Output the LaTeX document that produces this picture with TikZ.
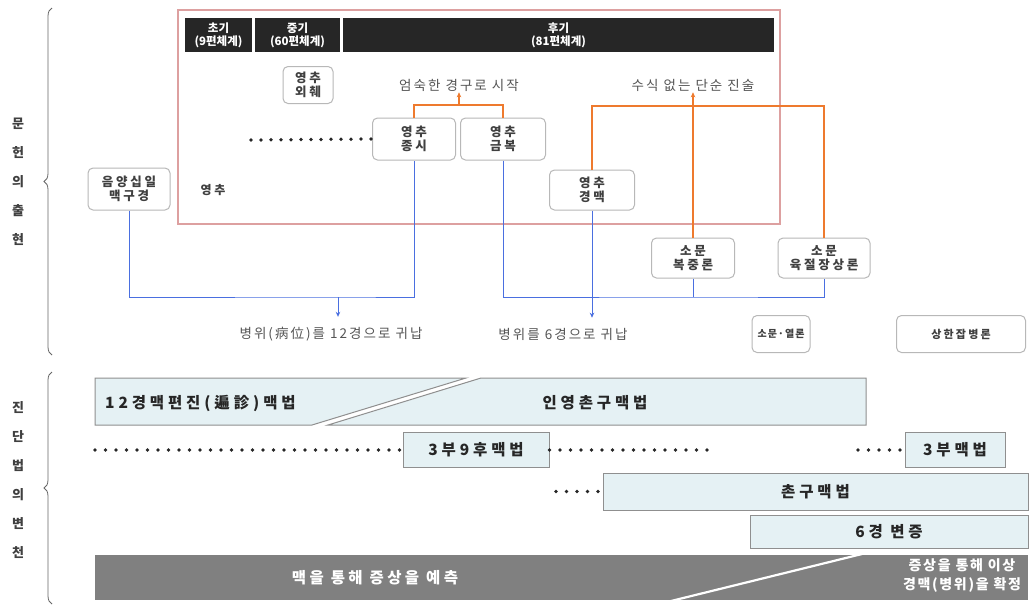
\documentclass[tikz,border=0pt]{standalone}
\usepackage{fontspec}
\setmainfont{Noto Sans CJK KR}
\newfontfamily\lsbox{Noto Sans CJK KR}[LetterSpace=22]
\newfontfamily\lslbl{Noto Sans CJK KR}[LetterSpace=15]
\newfontfamily\lsbig{Noto Sans CJK KR}[LetterSpace=25]
\newfontfamily\lsband{Noto Sans CJK KR}[LetterSpace=12]
\newfontfamily\lsmid{Noto Sans CJK KR}[LetterSpace=22]
\newfontfamily\lssmall{Noto Sans CJK KR}[LetterSpace=10]
\newfontfamily\lssh{Noto Sans CJK KR}[LetterSpace=20]
\usetikzlibrary{arrows.meta,decorations.pathreplacing}
\definecolor{hdr}{HTML}{262626}
\definecolor{pinkb}{HTML}{DDA0A0}
\definecolor{orl}{HTML}{EE7A2E}
\definecolor{bll}{HTML}{4A6FE0}
\definecolor{cyf}{HTML}{E5F1F4}
\definecolor{cyb}{HTML}{8F8F8F}
\definecolor{bandg}{HTML}{808080}
\definecolor{txg}{HTML}{555555}
\definecolor{bxb}{HTML}{B8B8B8}
\begin{document}
\begin{tikzpicture}[x=1pt,y=-1pt,
 hdrbox/.style={fill=hdr,text=white,font=\fontsize{11.5}{13}\selectfont\bfseries,align=center,minimum height=34pt,inner sep=0pt},
 rbox/.style={draw=bxb,line width=1pt,rounded corners=5pt,fill=white,align=center,font=\lsbox\fontsize{12.5}{14}\selectfont\bfseries,text=black!75,inner sep=0pt},
 lbl/.style={font=\lslbl\fontsize{13.5}{15}\selectfont,text=txg,inner sep=0pt},
 orline/.style={draw=orl,line width=1.3pt},
 blline/.style={draw=bll,line width=1pt},
 tipa/.style={-{Stealth[length=5pt,width=4.5pt]}},
 cybox/.style={draw=cyb,line width=1pt,fill=cyf,inner sep=0pt,font=\lsbig\fontsize{15.5}{17}\selectfont\bfseries,text=black!85},
 cytext/.style={inner sep=0pt,font=\lsbig\fontsize{15.5}{17}\selectfont\bfseries,text=black!85},
 dotrow/.style={line width=3.8pt,line cap=round,dash pattern=on 0pt off 10.5pt,draw=black!85},
 sidelbl/.style={font=\fontsize{13}{29}\selectfont\bfseries,text=black!75,align=center,inner sep=0pt},
 bracegray/.style={draw=black!60,line width=0.8pt,decorate,decoration={brace,amplitude=8pt}}
]
\useasboundingbox (0,0) rectangle (1031,608);
\fill[white] (0,0) rectangle (1031,608);

% side braces and labels
\draw[bracegray] (52,355) -- (52,8);
\draw[bracegray] (52,604) -- (52,372);
\node[sidelbl] (s1) at (18,182) {문\\헌\\의\\출\\현};
\node[sidelbl] (s2) at (18,480) {진\\단\\법\\의\\변\\천};

% pink frame
\draw[pinkb,line width=1.2pt] (178,10) rectangle (780,224);

% headers
\node[hdrbox,minimum width=67pt] (h1) at (218.5,35) {초기\\(9편체계)};
\node[hdrbox,minimum width=85pt] (h2) at (297.5,35) {중기\\(60편체계)};
\node[hdrbox,minimum width=431pt] (h3) at (558.5,35) {후기\\(81편체계)};

% boxes
\node[rbox,minimum width=50pt,minimum height=37pt] (oechwe) at (308,85) {영추\\외췌};
\node[rbox,minimum width=83pt,minimum height=42pt] (jongsi) at (414,139) {영추\\종시};
\node[rbox,minimum width=85pt,minimum height=42pt] (geumbok) at (503,139) {영추\\금복};
\node[rbox,minimum width=85pt,minimum height=40pt] (gyeongmaek) at (592,190) {영추\\경맥};
\node[rbox,minimum width=83pt,minimum height=40pt] (bokjung) at (693,258) {소문\\복중론};
\node[rbox,minimum width=92pt,minimum height=40pt] (yukjeol) at (824,258) {소문\\육절장상론};
\node[rbox,minimum width=82pt,minimum height=42pt] (eumyang) at (129,189) {음양십일\\맥구경};
\node[rbox,font=\lssmall\fontsize{10}{12}\selectfont\bfseries,minimum width=58pt,minimum height=37pt] (yeollon) at (781,334) {소문·열론};
\node[rbox,font=\lssh\fontsize{11}{13}\selectfont\bfseries,minimum width=129pt,minimum height=37pt] (sanghan) at (961,334) {상한잡병론};

% labels
\node[lbl] (t1) at (459,85) {엄숙한 경구로 시작};
\node[lbl] (t2) at (693,85) {수식 없는 단순 진술};
\node[lbl,font=\lsbox\fontsize{12}{14}\selectfont\bfseries,text=black!75] (yc) at (213,190) {영추};
\node[lbl] (b12) at (331,334) {병위(病位)를 12경으로 귀납};
\node[lbl] (b6) at (563,334) {병위를 6경으로 귀납};

% dotted line to 종시
\coordinate (dstart) at (251,140);
\draw[dotrow,dash pattern=on 0pt off 10pt] (dstart) -- (jongsi.west);

% orange connectors
\coordinate (oj) at (459,105);
\draw[orline] (jongsi.north) |- (oj) -| (geumbok.north);
\draw[orline,tipa,shorten >=1pt] (oj) -- (oj |- t1.south);
\coordinate (ok) at (693,106);
\draw[orline] (gyeongmaek.north) |- (ok) -| (yukjeol.north);
\draw[orline,tipa,shorten >=1pt] (bokjung.north) -- (bokjung.north |- t2.south);

% blue connectors
\coordinate (ba) at (338,297);
\draw[blline] (eumyang.south) |- (ba) -| (jongsi.south);
\draw[blline,tipa,shorten >=10pt] (ba) -- (ba |- b12.north);
\coordinate (bb) at (693,297);
\draw[blline] (geumbok.south) |- (bb) -| (yukjeol.south);
\draw[blline] (bokjung.south) -- (bb);
\draw[blline,tipa,shorten >=10pt] (gyeongmaek.south) -- (gyeongmaek.south |- b6.north);

% row 1
\fill[cyf] (95,378) -- (466,378) -- (312,425) -- (95,425) -- cycle;
\draw[cyb,line width=1pt] (312,425) -- (95,425) -- (95,378) -- (466,378) -- (312,425);
\fill[cyf] (481,378) -- (866,378) -- (866,425) -- (328,425) -- cycle;
\draw[cyb,line width=1pt] (481,378) -- (866,378) -- (866,425) -- (328,425) -- cycle;
\node[cytext,anchor=west] (r12) at (105,403) {12경맥편진(遍診)맥법};
\node[cytext] (ryc) at (595,403) {인영촌구맥법};

% row 2
\node[cybox,minimum width=146pt,minimum height=35pt] (sb9) at (476,450) {3부9후맥법};
\coordinate (d2a) at (95,450);
\draw[dotrow] (d2a) -- (sb9.west);
\coordinate (d2b) at (712,450);
\draw[dotrow] (sb9.east) -- (d2b);
\node[cybox,minimum width=100pt,minimum height=35pt] (sb3) at (955,450) {3부맥법};
\coordinate (d2c) at (858,450);
\draw[dotrow] (d2c) -- (sb3.west);

% row 3
\node[cybox,minimum width=425pt,minimum height=37pt] (chon) at (815.5,491.5) {촌구맥법};
\coordinate (d3a) at (556,491.5);
\draw[dotrow] (d3a) -- (chon.west);

% row 4
\node[cybox,minimum width=278pt,minimum height=33pt] (yuk) at (889,531.5) {6경 변증};

% gray band
\fill[bandg] (95,555) rectangle (1028,600);
\draw[white,line width=2.2pt] (671,601) -- (862,554);
\node[inner sep=0pt,text=white,font=\lsmid\fontsize{15.5}{17}\selectfont\bfseries] (m1) at (375,578) {맥을 통해 증상을 예측};
\node[inner sep=0pt,text=white,align=center,font=\lsband\fontsize{14}{19}\selectfont\bfseries] (m2) at (962,576) {증상을 통해 이상\\경맥(병위)을 확정};
\end{tikzpicture}
\end{document}
